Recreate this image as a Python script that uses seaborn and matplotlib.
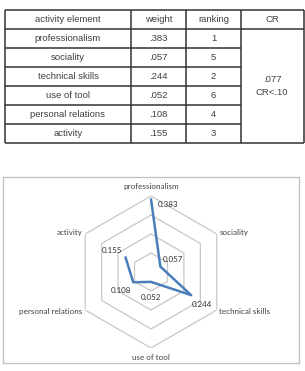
import numpy as np
import pandas as pd
import matplotlib
matplotlib.use('Agg')
import matplotlib.pyplot as plt
import seaborn as sns

# data
elements = ['professionalism', 'sociality', 'technical skills',
            'use of tool', 'personal relations', 'activity']
weights = [0.383, 0.057, 0.244, 0.052, 0.108, 0.155]
rankings = [1, 5, 2, 6, 4, 3]
headers = ['activity element', 'weight', 'ranking', 'CR']
cr_value = '.077'
cr_note = 'CR<.10'
ring_levels = [0.1, 0.2, 0.3, 0.4]

sns.set_theme(style='white')
plt.rcParams['font.family'] = ['Liberation Sans', 'DejaVu Sans']

W, H = 305, 371
fig = plt.figure(figsize=(W / 100, H / 100), dpi=100)


def px_rect(x0, y0, x1, y1):
    return [x0 / W, 1 - y1 / H, (x1 - x0) / W, (y1 - y0) / H]


# ---- table ----
ax_t = fig.add_axes(px_rect(5, 10, 304, 143))
col_edges = np.array([0, 126, 181, 236, 298.5]) / 299
n_rows = len(elements) + 1
ax_t.set_xlim(0, 1)
ax_t.set_ylim(n_rows, 0)
ax_t.axis('off')
line_c = '#333333'
txt_c = '#404040'
fs_t = 6.8

for x in col_edges:
    ax_t.vlines(x, 0, n_rows, color=line_c, lw=1.1, clip_on=False)
ax_t.hlines([0, 1, n_rows - 0.01], 0, col_edges[-1], color=line_c, lw=1.1, clip_on=False)
ax_t.hlines(np.arange(2, n_rows), 0, col_edges[3], color=line_c, lw=1.1, clip_on=False)

centers = (col_edges[:-1] + col_edges[1:]) / 2
for cx, h in zip(centers, headers):
    ax_t.text(cx, 0.5, h, ha='center', va='center', fontsize=fs_t, color=txt_c)
for i, (e, w, r) in enumerate(zip(elements, weights, rankings)):
    y = i + 1.5
    ax_t.text(centers[0], y, e, ha='center', va='center', fontsize=fs_t, color=txt_c)
    ax_t.text(centers[1], y, f'{w:.3f}'.lstrip('0'), ha='center', va='center',
              fontsize=fs_t, color=txt_c)
    ax_t.text(centers[2], y, str(r), ha='center', va='center', fontsize=fs_t, color=txt_c)
mid = (1 + n_rows) / 2
ax_t.text(centers[3], mid - 0.32, cr_value, ha='center', va='center', fontsize=fs_t, color=txt_c)
ax_t.text(centers[3], mid + 0.32, cr_note, ha='center', va='center', fontsize=fs_t, color=txt_c)

# ---- chart frame ----
ax_f = fig.add_axes(px_rect(3, 177, 299, 363))
ax_f.set_xticks([])
ax_f.set_yticks([])
ax_f.set_facecolor('white')
for s in ax_f.spines.values():
    s.set_color('#bfbfbf')
    s.set_linewidth(0.9)

# ---- radar ----
cx, cy, R = 151, 272, 76
ax = fig.add_axes(px_rect(cx - R, cy - R, cx + R, cy + R), projection='polar')
ax.set_theta_offset(np.pi / 2)
ax.set_theta_direction(-1)
ax.set_ylim(0, max(ring_levels))
ax.grid(False)
ax.set_xticks([])
ax.set_yticks([])
ax.spines['polar'].set_visible(False)
ax.patch.set_alpha(0)

angles = np.linspace(0, 2 * np.pi, len(elements), endpoint=False)
closed_ang = np.append(angles, angles[0])
for lv in ring_levels:
    ax.plot(closed_ang, [lv] * len(closed_ang), color='#c8c8c8', lw=0.9, zorder=1)

df = pd.DataFrame({'theta': closed_ang, 'r': weights + weights[:1]})
sns.lineplot(data=df, x='theta', y='r', sort=False, ax=ax,
             color='#4a7ebb', lw=1.8, zorder=3)
ax.set_xlabel('')
ax.set_ylabel('')

lab_c = '#404040'
fs_c = 5.8
lab_r = [0.45, 0.415, 0.415, 0.45, 0.415, 0.415]
for a, e, rr in zip(angles, elements, lab_r):
    s = np.sin(a)
    ha = 'center' if abs(s) < 0.1 else ('left' if s > 0 else 'right')
    ax.text(a, rr, e, ha=ha, va='center', fontsize=fs_c, color=lab_c,
            family=['Lato', 'DejaVu Sans'])

val_offsets = [(12, -4), (9, 5), (8, -7), (0, -11), (-9, -6), (-10, 5)]
for a, w, off in zip(angles, weights, val_offsets):
    ax.annotate(f'{w:.3f}', (a, w), xytext=off, textcoords='offset points',
                ha='center', va='center', fontsize=fs_c, color='#303030',
                family=['Lato', 'DejaVu Sans'])

fig.savefig('out.png', dpi=100)
